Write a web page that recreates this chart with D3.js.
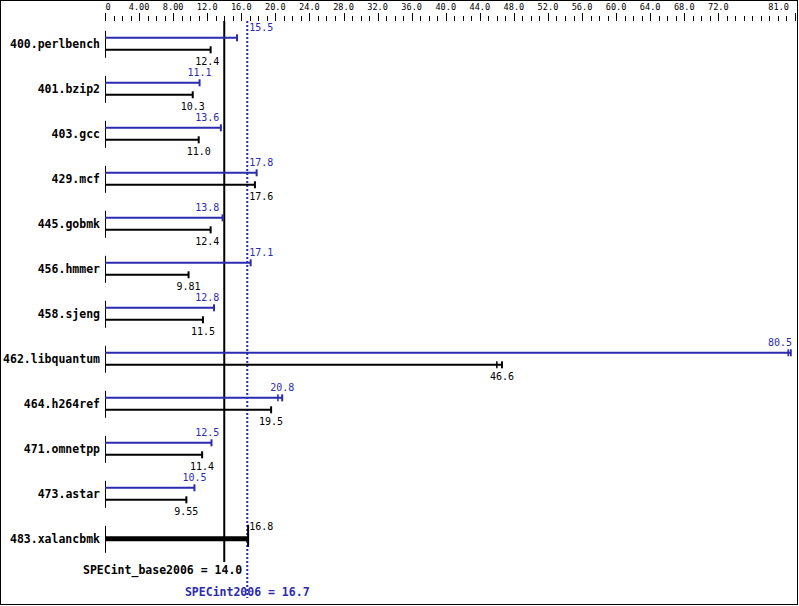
<!DOCTYPE html>
<html><head><meta charset="utf-8">
<script src="https://cdn.jsdelivr.net/npm/d3@7"></script>
<style>
html,body{margin:0;padding:0;background:#fff;}
text{font-family:"DejaVu Sans Mono","Liberation Mono",monospace;}
</style></head>
<body><svg id="chart" width="799" height="606"></svg>
<script>
const benchmarks = ["400.perlbench","401.bzip2","403.gcc","429.mcf","445.gobmk","456.hmmer","458.sjeng","462.libquantum","464.h264ref","471.omnetpp","473.astar","483.xalancbmk"];
const baseValues = [12.4, 10.3, 11.0, 17.6, 12.4, 9.81, 11.5, 46.6, 19.5, 11.4, 9.55, 16.8];
const peakValues = [15.5, 11.1, 13.6, 17.8, 13.8, 17.1, 12.8, 80.5, 20.8, 12.5, 10.5, null];
const baseOtherRun = [null, null, null, null, null, null, null, 46.0, null, null, null, null];
const peakOtherRun = [null, null, null, null, null, null, null, 80.2, 20.3, null, null, null];
const axisMajorTicks = [0,4,8,12,16,20,24,28,32,36,40,44,48,52,56,60,64,68,72,81];
const axisMinorTicks = d3.range(0, 81, 1);
const baseScore = 14.0, peakScore = 16.7;
const baseSummary = "SPECint_base2006 = 14.0";
const peakSummary = "SPECint2006 = 16.7";

const W = 799, H = 606;
const blue = "#2b2bb0";
const svg = d3.select("#chart");

svg.append("rect").attr("x",0.5).attr("y",0.5).attr("width",797).attr("height",604)
  .attr("fill","#fff").attr("stroke","#000").attr("stroke-width",1);

const x = d3.scaleLinear().domain([0, 81]).range([105, 795]);
const y = d3.scalePoint().domain(benchmarks).range([43.8, 538.8]);

// top axis
const fmt = v => v === 0 ? "0" : d3.format(".3r")(v);
const axisG = svg.append("g");
axisG.selectAll("line.minor").data(axisMinorTicks).join("line")
  .attr("x1", d => Math.round(x(d)) + 0.5).attr("x2", d => Math.round(x(d)) + 0.5)
  .attr("y1", 16).attr("y2", 21).attr("stroke","#000").attr("stroke-width",1);
axisG.selectAll("line.major").data(axisMajorTicks).join("line")
  .attr("x1", d => Math.round(x(d)) + 0.5).attr("x2", d => Math.round(x(d)) + 0.5)
  .attr("y1", 13).attr("y2", 21).attr("stroke","#000").attr("stroke-width",1);
axisG.selectAll("text").data(axisMajorTicks).join("text")
  .attr("x", (d,i) => i === axisMajorTicks.length-1 ? x(d) - 6 : x(d) + (d===0?3:0))
  .attr("y", 10)
  .attr("text-anchor", (d,i) => i === axisMajorTicks.length-1 ? "end" : "middle")
  .attr("font-size", "8.6px").attr("fill","#000")
  .text(fmt);

// measure helper
const meas = svg.append("text").attr("font-size","10px").attr("visibility","hidden");
function textW(s){ meas.text(s); return meas.node().getComputedTextLength(); }

const xb = x(baseScore), xp = x(peakScore);
function labelX(v, s){
  const w = textW(s), c = x(v);
  let left = c - w/2, right = c + w/2;
  if (right > xb - 4 && left < xp + 2){
    if (c < (xb + xp)/2) { left = xb - 5 - w; }
    else { left = xp + 2; }
  }
  if (left + w > W - 7) left = W - 7 - w;
  return left;
}

// summary lines
svg.append("line").attr("x1", xb).attr("x2", xb).attr("y1", 21).attr("y2", 562)
  .attr("stroke","#000").attr("stroke-width",2);
svg.append("line").attr("x1", xp).attr("x2", xp).attr("y1", 21).attr("y2", 598)
  .attr("stroke",blue).attr("stroke-width",2).attr("stroke-dasharray","2,2");

const rows = svg.append("g").selectAll("g").data(benchmarks).join("g");
rows.each(function(name, i){
  const g = d3.select(this);
  const c = y(name);
  const bv = baseValues[i], pv = peakValues[i];
  g.append("text").attr("x", 100).attr("y", c + 4).attr("text-anchor","end")
    .attr("font-size","11.5px").attr("font-weight","bold").attr("fill","#000").text(name);
  g.append("line").attr("x1", x(0)+0.5).attr("x2", x(0)+0.5).attr("y1", c-13).attr("y2", c+14)
    .attr("stroke","#000").attr("stroke-width",1);
  const bar = (yy, v, col, sw, capTop, capBot) => {
    g.append("line").attr("x1", x(0)).attr("x2", x(v)).attr("y1", yy).attr("y2", yy)
      .attr("stroke", col).attr("stroke-width", sw);
    g.append("line").attr("x1", x(v)).attr("x2", x(v)).attr("y1", yy-capTop).attr("y2", yy+capBot)
      .attr("stroke", col).attr("stroke-width", 2);
  };
  const other = (yy, v, col) => {
    g.append("line").attr("x1", x(v)).attr("x2", x(v)).attr("y1", yy-3.5).attr("y2", yy+3.5)
      .attr("stroke", col).attr("stroke-width", 1.5);
  };
  if (pv == null){
    bar(c, bv, "#000", 5, 14, 8);
    const s = d3.format(".3r")(bv);
    g.append("text").attr("x", labelX(bv, s)).attr("y", c - 8.5).attr("font-size","10px")
      .attr("fill","#000").text(s);
  } else {
    bar(c - 6, pv, blue, 2, 3.5, 3.5);
    if (peakOtherRun[i] != null) other(c - 6, peakOtherRun[i], blue);
    bar(c + 6, bv, "#000", 2, 3.5, 3.5);
    if (baseOtherRun[i] != null) other(c + 6, baseOtherRun[i], "#000");
    const ps = d3.format(".3r")(pv), bs = d3.format(".3r")(bv);
    g.append("text").attr("x", labelX(pv, ps)).attr("y", c - 13).attr("font-size","10px")
      .attr("fill", blue).text(ps);
    g.append("text").attr("x", labelX(bv, bs)).attr("y", c + 21.5).attr("font-size","10px")
      .attr("fill", "#000").text(bs);
  }
});

svg.append("text").attr("x", xp - 5).attr("y", 574).attr("text-anchor","end")
  .attr("font-size","11.5px").attr("font-weight","bold").attr("fill","#000").text(baseSummary);
svg.append("text").attr("x", xp).attr("y", 596).attr("text-anchor","middle")
  .attr("font-size","11.5px").attr("font-weight","bold").attr("fill",blue).text(peakSummary);
</script></body></html>
